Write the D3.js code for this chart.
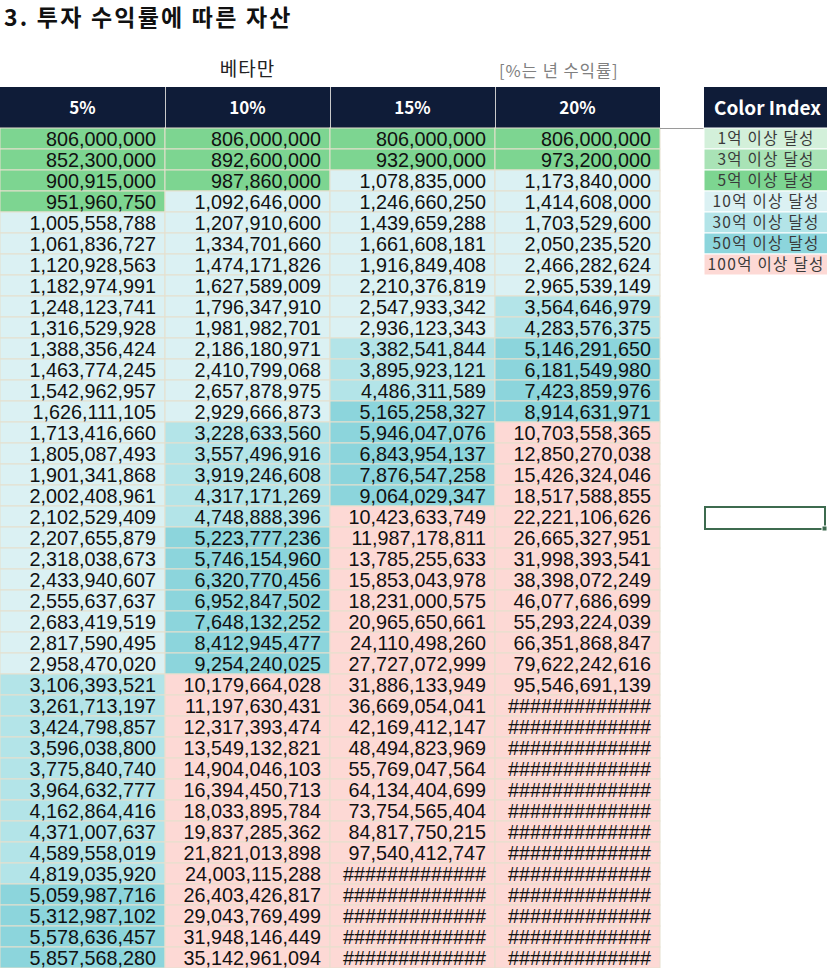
<!DOCTYPE html>
<html>
<head>
<meta charset="utf-8">
<script src="https://cdn.jsdelivr.net/npm/d3@7"></script>
<style>
  body { margin: 0; background: #fff; }
  svg { display: block; }
</style>
</head>
<body>
<svg id="sheet"></svg>
<script>
// rate columns
var rates = ["5%", "10%", "15%", "20%"];

// yearly asset per rate (null = cell shows ####)
var r5 = [806000000, 852300000, 900915000, 951960750, 1005558788, 1061836727, 1120928563, 1182974991,
  1248123741, 1316529928, 1388356424, 1463774245, 1542962957, 1626111105, 1713416660, 1805087493,
  1901341868, 2002408961, 2102529409, 2207655879, 2318038673, 2433940607, 2555637637, 2683419519,
  2817590495, 2958470020, 3106393521, 3261713197, 3424798857, 3596038800, 3775840740, 3964632777,
  4162864416, 4371007637, 4589558019, 4819035920, 5059987716, 5312987102, 5578636457, 5857568280];
var r10 = [806000000, 892600000, 987860000, 1092646000, 1207910600, 1334701660, 1474171826, 1627589009,
  1796347910, 1981982701, 2186180971, 2410799068, 2657878975, 2929666873, 3228633560, 3557496916,
  3919246608, 4317171269, 4748888396, 5223777236, 5746154960, 6320770456, 6952847502, 7648132252,
  8412945477, 9254240025, 10179664028, 11197630431, 12317393474, 13549132821, 14904046103, 16394450713,
  18033895784, 19837285362, 21821013898, 24003115288, 26403426817, 29043769499, 31948146449, 35142961094];
var r15 = [806000000, 932900000, 1078835000, 1246660250, 1439659288, 1661608181, 1916849408, 2210376819,
  2547933342, 2936123343, 3382541844, 3895923121, 4486311589, 5165258327, 5946047076, 6843954137,
  7876547258, 9064029347, 10423633749, 11987178811, 13785255633, 15853043978, 18231000575, 20965650661,
  24110498260, 27727072999, 31886133949, 36669054041, 42169412147, 48494823969, 55769047564, 64134404699,
  73754565404, 84817750215, 97540412747, null, null, null, null, null];
var r20 = [806000000, 973200000, 1173840000, 1414608000, 1703529600, 2050235520, 2466282624, 2965539149,
  3564646979, 4283576375, 5146291650, 6181549980, 7423859976, 8914631971, 10703558365, 12850270038,
  15426324046, 18517588855, 22221106626, 26665327951, 31998393541, 38398072249, 46077686699, 55293224039,
  66351868847, 79622242616, 95546691139, null, null, null, null, null,
  null, null, null, null, null, null, null, null];

// color index
var legendLabels = ["1억 이상 달성", "3억 이상 달성", "5억 이상 달성", "10억 이상 달성", "30억 이상 달성", "50억 이상 달성", "100억 이상 달성"];
var legendLimits = [1e8, 3e8, 5e8, 1e9, 3e9, 5e9, 1e10];
var legendColors = ["#d3f0da", "#a9e3b6", "#7dd591", "#dbf1f3", "#b3e4e8", "#8cd5dc", "#fdd9d5"];

var W = 827, H = 968;
var headTop = 87, headBot = 128;
var svg = d3.select("#sheet").attr("width", W).attr("height", H);

var columns = [r5, r10, r15, r20];
var nRows = r5.length;

var x = d3.scaleBand().domain(rates).range([0, 660]);
var y = d3.scaleBand().domain(d3.range(nRows)).range([headBot, headBot + 21 * nRows]);
var color = d3.scaleThreshold().domain(legendLimits).range(["#ffffff"].concat(legendColors));
var fmt = d3.format(",");
var numFont = "'Liberation Sans', Arial, sans-serif";
var korFont = "'Noto Sans CJK KR', 'Noto Sans', sans-serif";

// title
svg.append("text")
  .attr("x", 4).attr("y", 26)
  .style("font-family", korFont).style("font-weight", 700).style("font-size", "23px")
  .style("letter-spacing", "2.2px")
  .attr("fill", "#111")
  .text("3. 투자 수익률에 따른 자산");

svg.append("text")
  .attr("x", x("10%") + x.bandwidth() / 2).attr("y", 76)
  .attr("text-anchor", "middle")
  .style("font-family", korFont).style("font-size", "19px")
  .style("letter-spacing", "1px")
  .attr("fill", "#222")
  .text("베타만");

svg.append("text")
  .attr("x", 499).attr("y", 77)
  .style("font-family", korFont).style("font-size", "16.5px")
  .style("letter-spacing", "1px")
  .attr("fill", "#808080")
  .text("[%는 년 수익률]");

// header
var head = svg.append("g");
head.selectAll("rect").data(rates).enter().append("rect")
  .attr("x", d => x(d)).attr("y", headTop)
  .attr("width", x.bandwidth()).attr("height", headBot - headTop)
  .attr("fill", "#0f1c38");
head.selectAll("line").data(rates.slice(1)).enter().append("line")
  .attr("x1", d => x(d) + 0.5).attr("x2", d => x(d) + 0.5)
  .attr("y1", headTop).attr("y2", headBot)
  .attr("stroke", "#c9c9c9");
head.selectAll("text").data(rates).enter().append("text")
  .attr("x", d => x(d) + x.bandwidth() / 2).attr("y", headTop + 27)
  .attr("text-anchor", "middle")
  .style("font-family", korFont).style("font-weight", 700).style("font-size", "17px")
  .attr("fill", "#fff")
  .text(d => d);

// cells
var cells = [];
columns.forEach(function (col, ci) {
  col.forEach(function (v, ri) { cells.push({ rate: rates[ci], row: ri, v: v }); });
});

var body = svg.append("g");
body.selectAll("rect").data(cells).enter().append("rect")
  .attr("x", d => x(d.rate)).attr("y", d => y(d.row))
  .attr("width", x.bandwidth()).attr("height", y.bandwidth())
  .attr("fill", d => d.v == null ? legendColors[6] : color(d.v))
  .attr("stroke", "#e6dfcd").attr("stroke-width", 1);

body.selectAll("text").data(cells).enter().append("text")
  .attr("x", d => x(d.rate) + x.bandwidth() - 9)
  .attr("y", d => y(d.row) + y.bandwidth() / 2 + 7)
  .attr("text-anchor", "end")
  .style("font-family", numFont).style("font-size", "19.8px")
  .attr("fill", "#111")
  .text(d => d.v == null ? "#############" : fmt(d.v));

// link line between table and legend
svg.append("line")
  .attr("x1", 660).attr("x2", 704).attr("y1", headBot + 0.5).attr("y2", headBot + 0.5)
  .attr("stroke", "#9a9a9a");

// legend
var lx = 704, lw = 124;
var leg = svg.append("g");
leg.append("rect")
  .attr("x", lx).attr("y", headTop).attr("width", lw).attr("height", headBot - headTop)
  .attr("fill", "#0f1c38");
leg.append("text")
  .attr("x", lx + 10).attr("y", headTop + 28)
  .style("font-family", korFont).style("font-weight", 700).style("font-size", "19px")
  .attr("fill", "#fff")
  .text("Color Index");
leg.selectAll("rect.item").data(legendLabels).enter().append("rect")
  .attr("class", "item")
  .attr("x", lx).attr("y", (d, i) => y(i))
  .attr("width", lw).attr("height", y.bandwidth())
  .attr("fill", (d, i) => legendColors[i])
  .attr("stroke", "#ffffff");
leg.selectAll("text.item").data(legendLabels).enter().append("text")
  .attr("class", "item")
  .attr("x", lx + lw / 2).attr("y", (d, i) => y(i) + y.bandwidth() / 2 + 5.5)
  .attr("text-anchor", "middle")
  .style("font-family", korFont).style("font-size", "15.5px")
  .style("letter-spacing", "1.3px")
  .attr("fill", "#3a3a3a")
  .text(d => d);

// selected cell
var sel = svg.append("g");
sel.append("rect")
  .attr("x", lx + 1).attr("y", y(18) + 1).attr("width", lw - 4).attr("height", y.bandwidth() + 1)
  .attr("fill", "none").attr("stroke", "#3d6b4f").attr("stroke-width", 2);
sel.append("rect")
  .attr("x", lx + lw - 6).attr("y", y(18) + y.bandwidth() - 1).attr("width", 5).attr("height", 5)
  .attr("fill", "#3d6b4f").attr("stroke", "#fff");
</script>
</body>
</html>
